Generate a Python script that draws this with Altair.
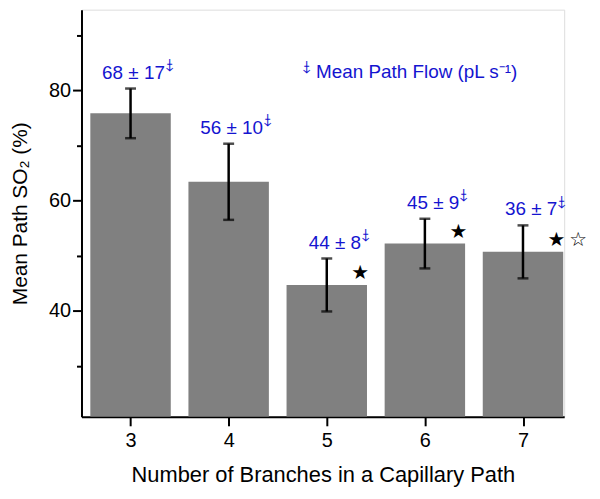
import altair as alt
import pandas as pd

branches = [3, 4, 5, 6, 7]
so2_mean = [75.8, 63.4, 44.7, 52.2, 50.7]
so2_err = [4.5, 6.9, 4.8, 4.5, 4.8]
flow_mean = [68, 56, 44, 45, 36]
flow_sd = [17, 10, 8, 9, 7]
stars = ["", "", "★", "★", "★\u2009☆"]

df = pd.DataFrame({
    "n": branches,
    "mean": so2_mean,
    "err": so2_err,
    "flow": flow_mean,
    "sd": flow_sd,
    "star": stars,
})
df["lo"] = df["mean"] - df["err"]
df["hi"] = df["mean"] + df["err"]
df["label"] = [f"{m} ± {s}" for m, s in zip(flow_mean, flow_sd)]

BLUE = "#1414d0"
FONT = "Liberation Sans"

xscale = alt.Scale(domain=[2.5, 7.42], nice=False, zero=False)
yscale = alt.Scale(domain=[20.8, 94.6], nice=False, zero=False)

xaxis = alt.Axis(
    values=branches, format="d", title="Number of Branches in a Capillary Path",
    grid=False, domainColor="black", domainWidth=2, tickColor="black", tickWidth=2,
    tickSize=9, labelFontSize=20, labelPadding=5, titleFontSize=22,
    titleFontWeight="normal", titlePadding=14, labelColor="black", titleColor="black",
    labelFont=FONT, titleFont=FONT,
)
yaxis = alt.Axis(
    values=[30, 40, 50, 60, 70, 80, 90], title="Mean Path SO₂ (%)",
    labelExpr="datum.value % 20 == 0 ? datum.label : ''",
    grid=False, domainColor="black", domainWidth=2, tickColor="black", tickWidth=2,
    tickSize={"condition": {"test": "datum.value % 20 == 0", "value": 9}, "value": 5},
    labelFontSize=20, labelPadding=2, titleFontSize=21, titleFontWeight="normal",
    titlePadding=18, labelColor="black", titleColor="black",
    labelFont=FONT, titleFont=FONT,
)

base = alt.Chart(df).transform_calculate(
    x0="datum.n - 0.41", x1="datum.n + 0.41"
)

bars = base.mark_bar(color="#808080", clip=True).encode(
    x=alt.X("x0:Q", scale=xscale, axis=xaxis),
    x2="x1:Q",
    y=alt.Y("mean:Q", scale=yscale, axis=yaxis),
    y2=alt.datum(20.8),
)

rules = base.mark_rule(color="black", strokeWidth=2.5).encode(
    x="n:Q", y="lo:Q", y2="hi:Q"
)
cap_lo = base.mark_tick(color="black", orient="horizontal", size=11, thickness=2.5).encode(
    x="n:Q", y="lo:Q"
)
cap_hi = base.mark_tick(color="black", orient="horizontal", size=11, thickness=2.5).encode(
    x="n:Q", y="hi:Q"
)

labels = base.transform_calculate(xl="datum.n + 0.35").mark_text(
    color=BLUE, fontSize=19, font=FONT, align="right", baseline="alphabetic", dy=-10
).encode(x="xl:Q", y="hi:Q", text="label:N")

arrows = base.transform_calculate(xl="datum.n + 0.35").mark_text(
    color=BLUE, fontSize=17, font="DejaVu Sans", align="left", baseline="alphabetic",
    dx=1, dy=-19
).encode(x="xl:Q", y="hi:Q", text=alt.value("⤈"))

star_marks = base.transform_calculate(xs="datum.n + 0.25").mark_text(
    color="black", fontSize=20, font="DejaVu Sans", align="left", baseline="middle", dy=-12
).encode(x="xs:Q", y="mean:Q", text="star:N")

legend_df = pd.DataFrame({"t": ["Mean Path Flow (pL s⁻¹)"], "x": [4.89], "y": [82.2], "xa": [4.76]})
legend_text = alt.Chart(legend_df).mark_text(
    color=BLUE, fontSize=19, font=FONT, align="left", baseline="alphabetic"
).encode(x="x:Q", y="y:Q", text="t:N")
legend_arrow = alt.Chart(legend_df).mark_text(
    color=BLUE, fontSize=17, font="DejaVu Sans", align="left", baseline="alphabetic", dy=-6
).encode(x="xa:Q", y="y:Q", text=alt.value("⤈"))

chart = alt.layer(
    bars, rules, cap_lo, cap_hi, labels, arrows, star_marks, legend_text, legend_arrow
).properties(
    width=486, height=410,
    autosize=alt.AutoSizeParams(type="none"),
    padding={"left": 74, "top": 0, "right": 28, "bottom": 70},
).configure_view(stroke=None).configure(font=FONT)

chart.save("out.html", embed_options={"renderer": "svg", "actions": False})
